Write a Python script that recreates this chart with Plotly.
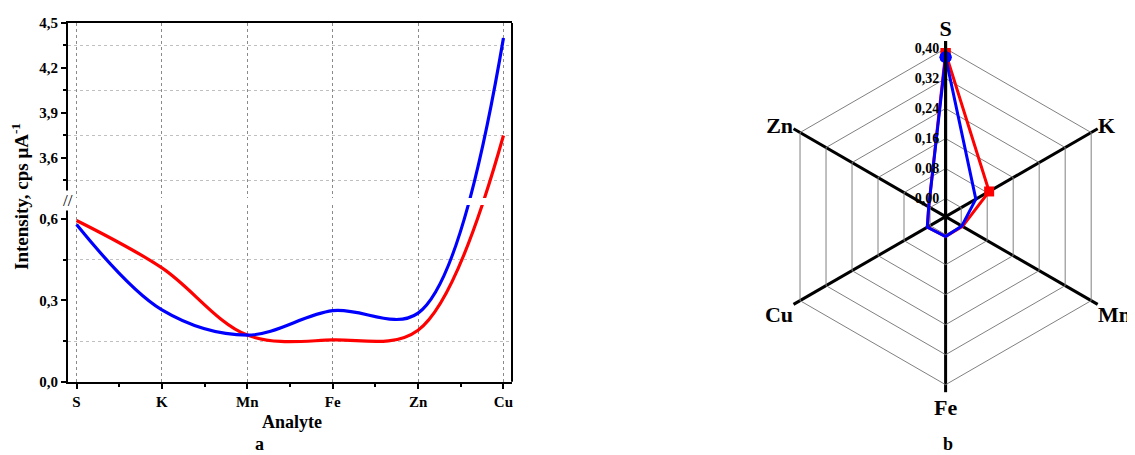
import plotly.graph_objects as go

# ---- data ----
analytes = ["S", "K", "Mn", "Fe", "Zn", "Cu"]
red_line = [0.595, 0.42, 0.172, 0.154, 0.19, 3.75]
blue_line = [0.58, 0.265, 0.172, 0.262, 0.253, 4.40]

radar_cats = ["S", "K", "Mn", "Fe", "Cu", "Zn"]
radar_red = [0.388, 0.086, 0.004, 0.005, 0.008, 0.004]
radar_blue = [0.377, 0.045, 0.002, 0.005, 0.0085, 0.004]

y_low_ticks = [0.0, 0.3, 0.6]
y_low_minor = [0.15, 0.45]
y_high_ticks = [3.6, 3.9, 4.2, 4.5]
y_high_minor = [3.45, 3.75, 4.05, 4.35]
radial_ticks = [0.0, 0.08, 0.16, 0.24, 0.32, 0.40]

RED = "#ff0000"
BLUE = "#0000ff"
FONT = "Liberation Serif"
W, H = 1135, 455
OFF = 8  # page body margin

px = lambda v: (v - OFF) / W
py = lambda v: 1 - (v - OFF) / H

# ---- broken y axis (screen-space like the original software) ----
LOW_MAX, HIGH_MIN, HIGH_MAX = 0.652, 3.333, 4.5
low_top, low_bot = 205.0, 381.7     # pixel rows of the lower segment
up_top, up_bot = 23.0, 198.0        # pixel rows of the upper segment
ppu_low = (low_bot - low_top) / LOW_MAX
ppu_up = (up_bot - up_top) / (HIGH_MAX - HIGH_MIN)
k = ppu_up / ppu_low
T0 = LOW_MAX + (low_top - up_bot) / ppu_low
T1 = T0 + (HIGH_MAX - HIGH_MIN) * k


def brk(v):
    return v if v <= LOW_MAX else T0 + (v - HIGH_MIN) * k


def fmt(v):
    return f"{v:.1f}".replace(".", ",")


xi = list(range(len(analytes)))

fig = go.Figure()
for vals, col in [(red_line, RED), (blue_line, BLUE)]:
    yt = [brk(v) for v in vals]
    for xa, ya in [("x", "y"), ("x2", "y2")]:
        fig.add_trace(go.Scatter(x=xi, y=yt, mode="lines",
                                 line=dict(color=col, width=3.2, shape="spline", smoothing=1.0),
                                 xaxis=xa, yaxis=ya, showlegend=False, hoverinfo="skip"))

# radar
fig.add_trace(go.Scatterpolar(r=radar_red + [radar_red[0]], theta=radar_cats + [radar_cats[0]], mode="lines+markers",
                              line=dict(color=RED, width=3), marker=dict(symbol="square", size=10, color=RED),
                              showlegend=False, subplot="polar"))
fig.add_trace(go.Scatterpolar(r=radar_blue + [radar_blue[0]], theta=radar_cats + [radar_cats[0]], mode="lines+markers",
                              line=dict(color=BLUE, width=3), marker=dict(symbol="circle", size=12, color=BLUE),
                              showlegend=False, subplot="polar"))

xdom = [px(68), px(512)]
tickfont = dict(family=FONT, size=15, color="black", weight="bold")

common_x = dict(range=[-0.1, 5.1], tickvals=xi, showgrid=True, gridcolor="#8a8a8a", griddash="dot", gridwidth=1.3,
                zeroline=False, showline=True, linecolor="black", linewidth=2, mirror=False, domain=xdom,
                automargin=False)
common_y = dict(ticks="outside", ticklen=5, tickwidth=1.5, tickcolor="black", showgrid=False, zeroline=False,
                showline=True, linecolor="black", linewidth=2, mirror=False, tickfont=tickfont, automargin=False)
minor_y = dict(showgrid=True, gridcolor="#c0c0c0", griddash="dot", gridwidth=1,
               ticks="outside", ticklen=3, tickcolor="black")

fig.update_layout(
    template="none",
    width=W, height=H, margin=dict(l=0, r=0, t=0, b=0, pad=0), autosize=False,
    paper_bgcolor="white", plot_bgcolor="white", separators=",.",
    xaxis=dict(common_x, anchor="y", side="bottom", ticktext=analytes, ticks="outside", ticklen=5, tickwidth=1.5,
               tickcolor="black", tickfont=tickfont,
               minor=dict(dtick=0.5, tick0=0, ticks="outside", ticklen=3, tickwidth=1.5, tickcolor="black")),
    xaxis2=dict(common_x, anchor="y2", side="top", matches="x", showticklabels=False, ticks=""),
    yaxis=dict(common_y, domain=[py(low_bot), py(low_top)], range=[0, LOW_MAX],
               tickvals=y_low_ticks, ticktext=[fmt(v) for v in y_low_ticks],
               minor=dict(minor_y, tickvals=y_low_minor)),
    yaxis2=dict(common_y, domain=[py(up_bot), py(up_top)], range=[T0, T1], anchor="x2",
                tickvals=[brk(v) for v in y_high_ticks], ticktext=[fmt(v) for v in y_high_ticks],
                minor=dict(minor_y, tickvals=[brk(v) for v in y_high_minor])),
    polar=dict(
        domain=dict(x=[px(770), px(1121.2)], y=[py(392.2), py(41)]),
        bgcolor="white", gridshape="linear",
        radialaxis=dict(range=[-0.048, 0.42], tickvals=radial_ticks, tickformat=".2f", angle=90, side="counterclockwise",
                        showgrid=True, gridcolor="#808080", gridwidth=1.3, showline=True, linecolor="black", linewidth=3,
                        ticks="", tickfont=dict(family=FONT, size=14, color="black", weight="bold"), tickangle=90),
        angularaxis=dict(categoryorder="array", categoryarray=radar_cats, rotation=90, direction="clockwise",
                         showline=False, showgrid=True, gridcolor="black", gridwidth=3, ticks="",
                         tickfont=dict(family=FONT, size=22, color="black", weight="bold")),
    ),
)

# continuous right frame line of panel a
fig.add_shape(type="line", xref="paper", yref="paper", x0=xdom[1], x1=xdom[1], y0=py(low_bot), y1=py(up_top),
              line=dict(color="black", width=2))

ann_font = dict(family=FONT, size=18, color="black", weight="bold")
center = dict(xref="paper", yref="paper", showarrow=False, xanchor="center", yanchor="middle")
fig.add_annotation(center, text="Intensity, cps μA<sup>-1</sup>", x=px(20), y=py(197), textangle=-90,
                   font=dict(family=FONT, size=19, color="black", weight="bold"))
fig.add_annotation(center, text="Analyte", x=px(292), y=py(422), font=ann_font)
fig.add_annotation(center, text="a", x=px(259), y=py(444), font=ann_font)
fig.add_annotation(center, text="b", x=px(948), y=py(444), font=ann_font)
# axis break marks
fig.add_annotation(center, text="//", x=px(68), y=py(200), font=dict(family=FONT, size=17, color="black"),
                   bgcolor="white", borderpad=0)

fig.write_html("out.html")
